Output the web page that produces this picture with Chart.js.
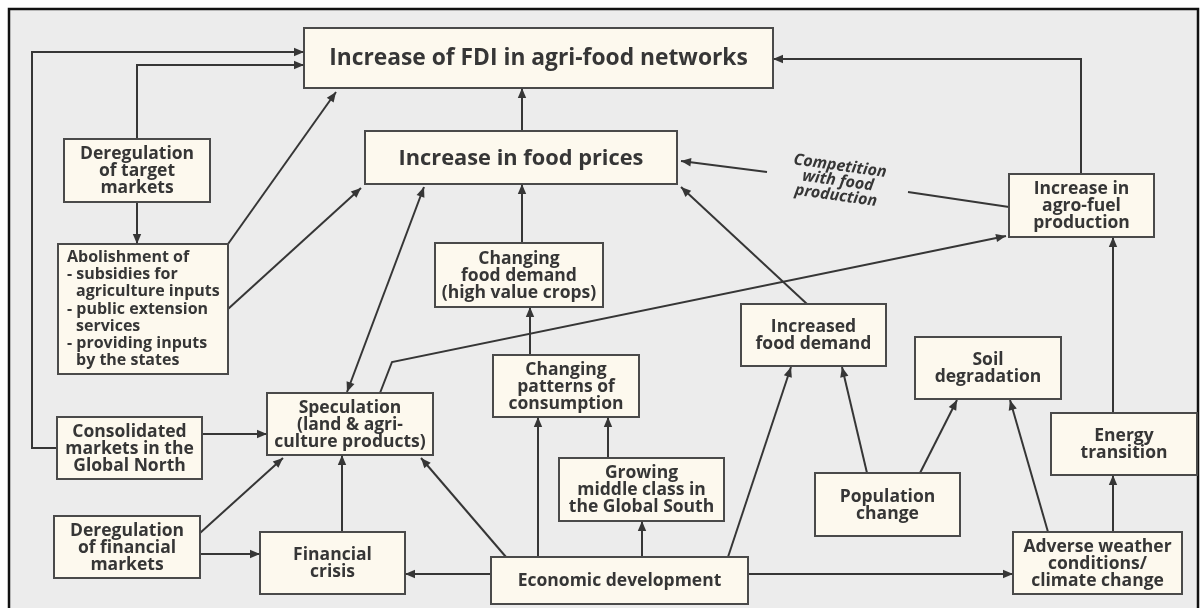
<!DOCTYPE html>
<html>
<head>
<meta charset="utf-8">
<script src="https://cdn.jsdelivr.net/npm/chart.js@4"></script>
<style>
  html, body { margin: 0; padding: 0; background: #fff; }
  canvas { display: block; }
</style>
</head>
<body>
<canvas id="flow" width="1201" height="608"></canvas>
<script>
// Boxes of the diagram: text lines, horizontal span, vertical span (diagram units)
const nodeText = [
    ['Increase of FDI in agri-food networks'],
    ['Increase in food prices'],
    ['Deregulation', 'of target', 'markets'],
    ['Abolishment of', '- subsidies for', '  agriculture inputs', '- public extension', '  services', '- providing inputs', '  by the states'],
    ['Changing', 'food demand', '(high value crops)'],
    ['Changing', 'patterns of', 'consumption'],
    ['Increased', 'food demand'],
    ['Soil', 'degradation'],
    ['Increase in', 'agro-fuel', 'production'],
    ['Energy', 'transition'],
    ['Speculation', '(land & agri-', 'culture products)'],
    ['Consolidated', 'markets in the', 'Global North'],
    ['Deregulation', 'of financial', 'markets'],
    ['Financial', 'crisis'],
    ['Economic development'],
    ['Growing', 'middle class in', 'the Global South'],
    ['Population', 'change'],
    ['Adverse weather', 'conditions/', 'climate change']
];
const nodeSpanX = [
    [304, 773], [365, 677], [64, 210], [58, 228], [435, 603], [493, 639],
    [741, 886], [915, 1061], [1009, 1154], [1051, 1197], [267, 433], [57, 202],
    [54, 200], [260, 405], [491, 748], [559, 724], [815, 960], [1013, 1182]
];
const nodeSpanY = [
    [28, 88], [131, 184], [139, 202], [244, 374], [243, 307], [355, 417],
    [304, 366], [337, 399], [174, 237], [413, 475], [393, 455], [417, 479],
    [516, 578], [532, 594], [557, 604], [458, 521], [473, 536], [532, 594]
];

// Links: polyline points, and which ends carry an arrowhead
const linkPoints = [
    [[57, 448], [32, 448], [32, 52], [304, 52]],
    [[137, 139], [137, 65], [304, 65]],
    [[137, 202], [137, 244]],
    [[228, 244], [336, 92]],
    [[228, 309], [361, 188]],
    [[347, 392], [424, 187]],
    [[522, 131], [522, 88]],
    [[522, 243], [522, 184]],
    [[530, 355], [530, 307]],
    [[380, 393], [392, 362], [1006, 236]],
    [[807, 304], [681, 187]],
    [[1009, 207], [908, 192]],
    [[767, 172], [681, 161]],
    [[1081, 174], [1081, 59], [773, 59]],
    [[1113, 413], [1113, 237]],
    [[1113, 532], [1113, 475]],
    [[1048, 532], [1010, 400]],
    [[920, 473], [957, 400]],
    [[867, 473], [842, 367]],
    [[728, 557], [791, 367]],
    [[748, 574], [1013, 574]],
    [[491, 574], [405, 574]],
    [[642, 557], [642, 521]],
    [[608, 458], [608, 417]],
    [[538, 557], [538, 417]],
    [[506, 557], [421, 458]],
    [[342, 532], [342, 455]],
    [[200, 533], [283, 458]],
    [[200, 554], [260, 554]],
    [[202, 434], [267, 434]]
];
const linkHeads = [
    'end', 'end', 'end', 'end', 'end', 'both', 'end', 'end', 'end', 'end',
    'end', 'none', 'end', 'end', 'end', 'end', 'end', 'end', 'end', 'end',
    'end', 'end', 'end', 'end', 'end', 'end', 'end', 'end', 'end', 'end'
];

// Label on the agro-fuel -> food prices link
const linkLabel = ['Competition', 'with food', 'production'];
const linkLabelAt = [838, 181];

const INK = '#363636';
const FONT = '"Open Sans", "Noto Sans", sans-serif';

function arrowHead(ctx, from, to) {
    const ang = Math.atan2(to.y - from.y, to.x - from.x);
    const len = 10, half = 4.2;
    ctx.beginPath();
    ctx.moveTo(to.x, to.y);
    ctx.lineTo(to.x - len * Math.cos(ang) + half * Math.sin(ang), to.y - len * Math.sin(ang) - half * Math.cos(ang));
    ctx.lineTo(to.x - len * Math.cos(ang) - half * Math.sin(ang), to.y - len * Math.sin(ang) + half * Math.cos(ang));
    ctx.closePath();
    ctx.fill();
}

const diagramPlugin = {
    id: 'diagram',
    beforeDraw(chart) {
        const ctx = chart.ctx;
        const sx = chart.scales.x, sy = chart.scales.y;
        ctx.save();
        ctx.fillStyle = '#ffffff';
        ctx.fillRect(0, 0, chart.width, chart.height);
        const l = sx.getPixelForValue(9), r = sx.getPixelForValue(1198);
        const t = sy.getPixelForValue(9), b = sy.getPixelForValue(640);
        ctx.fillStyle = '#ececec';
        ctx.fillRect(l, t, r - l, b - t);
        ctx.strokeStyle = '#111';
        ctx.lineWidth = 2.5;
        ctx.strokeRect(l, t, r - l, b - t);
        ctx.restore();
    },
    afterDatasetsDraw(chart) {
        const ctx = chart.ctx;
        const sx = chart.scales.x, sy = chart.scales.y;
        ctx.save();

        // boxes and their text
        nodeText.forEach((lines, i) => {
            const x0 = sx.getPixelForValue(nodeSpanX[i][0]), x1 = sx.getPixelForValue(nodeSpanX[i][1]);
            const y0 = sy.getPixelForValue(nodeSpanY[i][0]), y1 = sy.getPixelForValue(nodeSpanY[i][1]);
            ctx.fillStyle = '#fdf9ee';
            ctx.fillRect(x0, y0, x1 - x0, y1 - y0);
            ctx.strokeStyle = '#4a4a4a';
            ctx.lineWidth = 2;
            ctx.strokeRect(x0, y0, x1 - x0, y1 - y0);

            let size = 17.5, lh = 17;
            if (i === 0) size = 22.8;
            if (i === 1) size = 21.8;
            if (i === 3) { size = 16; lh = 17.3; }
            ctx.fillStyle = INK;
            ctx.font = `bold ${size}px ${FONT}`;
            ctx.textBaseline = 'middle';
            const cy = (y0 + y1) / 2;
            lines.forEach((txt, k) => {
                const y = cy + (k - (lines.length - 1) / 2) * lh;
                if (i === 3) {
                    ctx.textAlign = 'left';
                    const indent = txt.startsWith('  ') ? 18 : 9;
                    ctx.fillText(txt.trim(), x0 + indent, y);
                } else {
                    ctx.textAlign = 'center';
                    ctx.fillText(txt, (x0 + x1) / 2, y + 1);
                }
            });
        });

        // arrowheads
        ctx.fillStyle = INK;
        linkPoints.forEach((pts, i) => {
            const p = pts.map(q => ({x: sx.getPixelForValue(q[0]), y: sy.getPixelForValue(q[1])}));
            const n = p.length;
            if (linkHeads[i] === 'end' || linkHeads[i] === 'both') arrowHead(ctx, p[n - 2], p[n - 1]);
            if (linkHeads[i] === 'both') arrowHead(ctx, p[1], p[0]);
        });

        // rotated link label
        const lx = sx.getPixelForValue(linkLabelAt[0]), ly = sy.getPixelForValue(linkLabelAt[1]);
        ctx.translate(lx, ly);
        ctx.rotate(8 * Math.PI / 180);
        ctx.font = `italic bold 16px ${FONT}`;
        ctx.textAlign = 'center';
        ctx.textBaseline = 'middle';
        linkLabel.forEach((txt, k) => {
            ctx.fillText(txt, 0, (k - 1) * 15);
        });
        ctx.restore();
    }
};

new Chart(document.getElementById('flow'), {
    type: 'scatter',
    data: {
        datasets: linkPoints.map(pts => ({
            data: pts.map(q => ({x: q[0], y: q[1]})),
            showLine: true,
            borderColor: INK,
            borderWidth: 2,
            pointRadius: 0,
            tension: 0,
            fill: false
        }))
    },
    options: {
        responsive: false,
        animation: false,
        devicePixelRatio: 1,
        events: [],
        layout: { padding: 0 },
        plugins: { legend: { display: false }, tooltip: { enabled: false } },
        scales: {
            x: { type: 'linear', min: 0, max: 1201, display: false },
            y: { type: 'linear', min: 0, max: 608, reverse: true, display: false }
        }
    },
    plugins: [diagramPlugin]
});
</script>
</body>
</html>
